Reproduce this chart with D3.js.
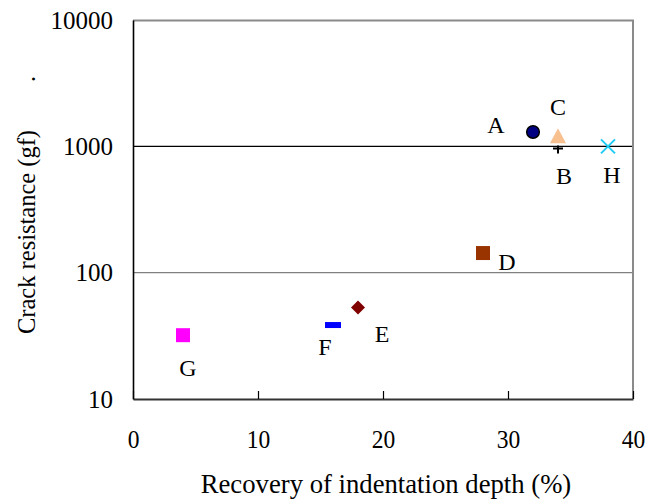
<!DOCTYPE html>
<html>
<head>
<meta charset="utf-8">
<script src="https://cdn.jsdelivr.net/npm/d3@7"></script>
<style>
  body { margin: 0; background: #fff; }
  text { font-family: "Liberation Serif", "Times New Roman", serif; fill: #000; }
</style>
</head>
<body>
<div id="chart"></div>
<script>
// data
var names = ["A", "B", "C", "D", "E", "F", "G", "H"];
var recovery = [32, 34, 34, 28, 18, 16, 4, 38];        // %
var resistance = [1300, 960, 1200, 143, 53, 38.5, 32, 1000]; // gf
var shapes = ["circle", "plus", "triangle", "square", "diamond", "dash", "square", "cross"];
var colors = ["#000080", "#000000", "#F9C08F", "#993300", "#800000", "#0000FF", "#FF00FF", "#1ECBF5"];
var xTicks = [0, 10, 20, 30, 40];
var yTicks = [10, 100, 1000, 10000];

// where each letter sits relative to its marker
var labelOffset = {
    A: [-37, -7], B: [6, 27], C: [0, -30], D: [24, 9],
    E: [24, 26], F: [-8, 22], G: [5, 32], H: [4, 28]
};

var svgWidth = 650;
var svgHeight = 503;
var margin = { top: 20, right: 17, bottom: 104, left: 133 };
var width = svgWidth - margin.left - margin.right;
var height = svgHeight - margin.top - margin.bottom;

var svg = d3.select("#chart")
    .append("svg")
    .attr("width", svgWidth)
    .attr("height", svgHeight);

var chartGroup = svg.append("g")
    .attr("transform", `translate(${margin.left}, ${margin.top})`);

var xScale = d3.scaleLinear().domain([0, 40]).range([0, width]);
var yScale = d3.scaleLog().domain([10, 10000]).range([height, 0]);

// gridlines
chartGroup.selectAll(".grid")
    .data([100, 1000])
    .enter()
    .append("line")
    .attr("x1", 0)
    .attr("x2", width)
    .attr("y1", d => yScale(d))
    .attr("y2", d => yScale(d))
    .attr("stroke", d => d === 1000 ? "#000" : "#808080")
    .attr("stroke-width", 1.3);

// top and right frame
chartGroup.append("path")
    .attr("d", `M0,0.5H${width}V${height}`)
    .attr("fill", "none")
    .attr("stroke", "#8a8a8a")
    .attr("stroke-width", 2);

// x axis, ticks pointing inward
var bottomAxis = d3.axisBottom(xScale)
    .tickValues(xTicks)
    .tickSizeInner(-8)
    .tickSizeOuter(0)
    .tickPadding(31);

var xAxis = chartGroup.append("g")
    .attr("transform", `translate(0, ${height})`)
    .call(bottomAxis);
xAxis.select(".domain").attr("stroke", "#333").attr("stroke-width", 2);
xAxis.selectAll(".tick line").attr("stroke", "#000").attr("stroke-width", 1.2);
xAxis.selectAll("text")
    .attr("font-size", "25px")
    .attr("transform", "scale(0.94,1)")
    .attr("fill", "#000");

// y axis
var leftAxis = d3.axisLeft(yScale)
    .tickValues(yTicks)
    .tickFormat(d3.format("d"))
    .tickSizeInner(0)
    .tickSizeOuter(0)
    .tickPadding(20);

var yAxis = chartGroup.append("g").call(leftAxis);
yAxis.select(".domain").attr("stroke", "#000").attr("stroke-width", 1.6);
yAxis.selectAll("text")
    .attr("font-size", "25px")
    .attr("fill", "#000");

// marker shapes
function markerPath(shape) {
    switch (shape) {
        case "circle": return d3.symbol(d3.symbolCircle, 125)();
        case "square": return "M-7,-7H7V7H-7Z";
        case "diamond": return "M0,-7L7,0L0,7L-7,0Z";
        case "triangle": return "M0,-8L8,7H-8Z";
        case "dash": return "M-8,-3H8V3H-8Z";
        case "plus": return "M-5,0H5M0,-3V5";
        case "cross": return "M-7,-7L7,7M-7,7L7,-7";
    }
}

var points = names.map((n, i) => ({
    name: n, x: recovery[i], y: resistance[i], shape: shapes[i], color: colors[i]
}));

// draw the plus before the triangle so the triangle sits on top
var order = ["plus", "circle", "triangle", "square", "diamond", "dash", "cross"];
points.sort((a, b) => order.indexOf(a.shape) - order.indexOf(b.shape));

chartGroup.selectAll(".marker")
    .data(points)
    .enter()
    .append("path")
    .attr("class", "marker")
    .attr("transform", d => `translate(${xScale(d.x)}, ${yScale(d.y)})`)
    .attr("d", d => markerPath(d.shape))
    .attr("fill", d => (d.shape === "plus" || d.shape === "cross") ? "none" : d.color)
    .attr("stroke", d => {
        if (d.shape === "circle") return "#000";
        if (d.shape === "plus" || d.shape === "cross") return d.color;
        return "none";
    })
    .attr("stroke-width", d => d.shape === "circle" ? 1.5 : 2);

// letters
chartGroup.selectAll(".pt-label")
    .data(points)
    .enter()
    .append("text")
    .attr("class", "pt-label")
    .attr("x", d => xScale(d.x) + labelOffset[d.name][0])
    .attr("y", d => yScale(d.y) + labelOffset[d.name][1])
    .attr("dy", "0.35em")
    .attr("text-anchor", "middle")
    .attr("font-size", "24px")
    .text(d => d.name);

// axis titles
svg.append("text")
    .attr("transform", "rotate(-90)")
    .attr("x", -232)
    .attr("y", 35)
    .attr("text-anchor", "middle")
    .attr("font-size", "24.5px")
    .text("Crack resistance (gf)");

svg.append("text")
    .attr("transform", "rotate(-90)")
    .attr("x", -79)
    .attr("y", 35)
    .attr("text-anchor", "middle")
    .attr("font-size", "26px")
    .text(".");

svg.append("text")
    .attr("x", 386)
    .attr("y", 493)
    .attr("text-anchor", "middle")
    .attr("font-size", "26.7px")
    .text("Recovery of indentation depth (%)");
</script>
</body>
</html>
